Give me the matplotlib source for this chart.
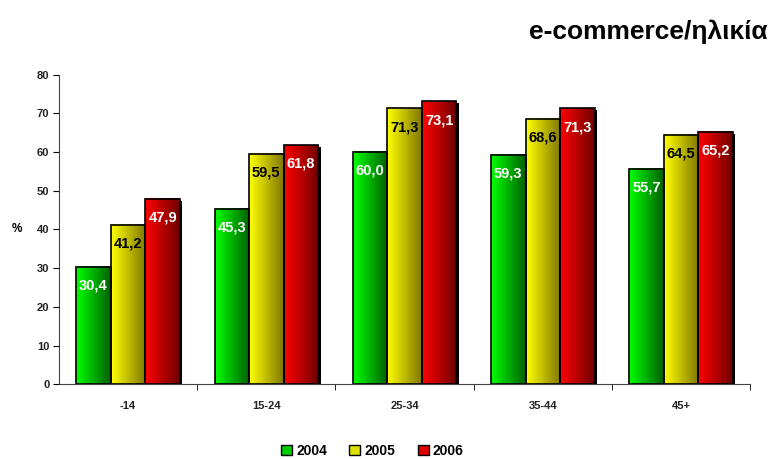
import numpy as np
import matplotlib.pyplot as plt
from matplotlib.colors import LinearSegmentedColormap
from matplotlib.patches import Rectangle

plt.rcParams['font.family'] = ['Liberation Sans', 'DejaVu Sans']

groups = ['-14', '15-24', '25-34', '35-44', '45+']
years = ['2004', '2005', '2006']
v2004 = [30.4, 45.3, 60.0, 59.3, 55.7]
v2005 = [41.2, 59.5, 71.3, 68.6, 64.5]
v2006 = [47.9, 61.8, 73.1, 71.3, 65.2]

# light -> dark horizontal shading per series
shades = [('#00ff00', '#006000'), ('#ffff00', '#807800'), ('#ff0000', '#700000')]
label_colors = ['white', 'black', 'white']
legend_colors = ['#00cc00', '#e0e000', '#e00000']

fig = plt.figure(figsize=(7.71, 4.59), dpi=100)
ax = fig.add_axes([0.0765, 0.163, 0.8965, 0.674])

w = 0.25
grad = np.linspace(0, 1, 64).reshape(1, -1)
for s, vals in enumerate([v2004, v2005, v2006]):
    cmap = LinearSegmentedColormap.from_list('s%d' % s, shades[s])
    for i, v in enumerate(vals):
        x0 = i + (s - 1) * w - w / 2
        # drop shadow
        ax.add_patch(Rectangle((x0 + 0.018, 0), w, v - 0.5, facecolor='black',
                               edgecolor='none', zorder=1))
        ax.imshow(grad, cmap=cmap, extent=(x0, x0 + w, 0, v), aspect='auto',
                  interpolation='bilinear', zorder=2)
        ax.add_patch(Rectangle((x0, 0), w, v, facecolor='none',
                               edgecolor='black', linewidth=1.2, zorder=3))
        ax.text(x0 + w / 2, v - 4.8, ('%.1f' % v).replace('.', ','),
                ha='center', va='center', fontsize=10.5, fontweight='bold',
                color=label_colors[s], zorder=4)

ax.set_xlim(-0.5, len(groups) - 0.5)
ax.set_ylim(0, 80)
ax.set_yticks(range(0, 81, 10))
ax.set_xticks(range(len(groups)))
ax.set_xticklabels(groups)
ax.set_xticks(np.arange(0.5, len(groups), 1), minor=True)
ax.tick_params(axis='x', which='major', length=0, pad=12)
ax.tick_params(axis='x', which='minor', length=4, direction='out')
ax.tick_params(axis='y', length=4, direction='out', pad=3)
for lbl in ax.get_xticklabels() + ax.get_yticklabels():
    lbl.set_fontsize(8)
    lbl.set_fontweight('bold')
    lbl.set_color('#222222')
for sp in ['top', 'right']:
    ax.spines[sp].set_visible(False)
ax.spines['left'].set_color('#444444')
ax.spines['bottom'].set_color('#444444')

ax.set_ylabel('%', rotation=0, fontsize=8.5, fontweight='bold', labelpad=14,
              va='center')

handles = [Rectangle((0, 0), 1, 1, facecolor=c, edgecolor='black', linewidth=1)
           for c in legend_colors]
fig.legend(handles, years, loc='lower center', bbox_to_anchor=(0.483, -0.025),
           ncol=3, frameon=False, handlelength=0.8, handleheight=0.8,
           handletextpad=0.3, columnspacing=1.6,
           prop={'size': 10, 'weight': 'bold'})

fig.text(0.996, 0.93, 'e-commerce/ηλικία', ha='right', va='center',
         fontsize=19, fontweight='bold')

fig.savefig('out.png', dpi=100)
